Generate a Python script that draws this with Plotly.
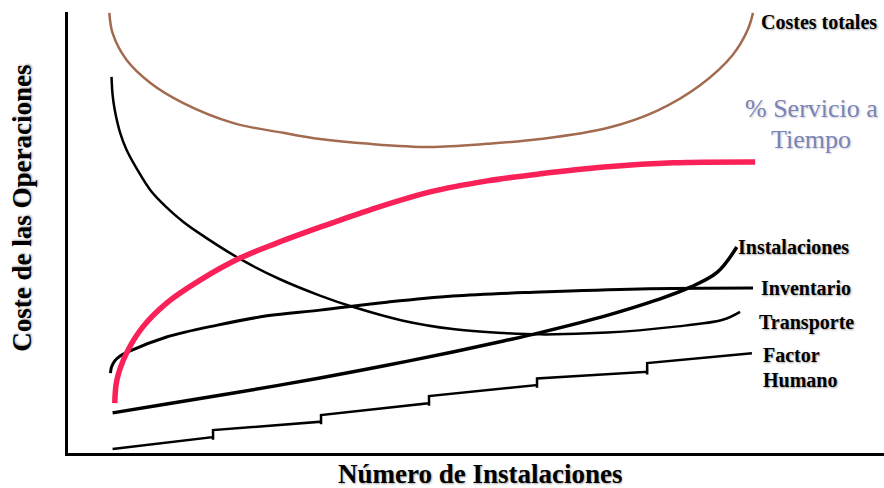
import plotly.graph_objects as go

# x: número de instalaciones, y: coste (0-100, unidades relativas)
costes_x = [1.04, 1.07, 1.20, 1.42, 1.72, 2.19, 2.65, 2.99, 3.45, 4.01, 4.54, 5.03, 5.65, 6.11, 6.51, 6.81, 6.95, 7.00]
costes_y = [99.8, 95.2, 89.1, 83.9, 79.4, 74.8, 72.6, 71.2, 70.1, 69.4, 70.1, 71.2, 73.7, 77.6, 83.4, 90.2, 95.9, 99.8]

servicio_x = [1.09, 1.11, 1.20, 1.35, 1.57, 1.88, 2.25, 2.59, 2.99, 3.45, 4.01, 4.54, 5.03, 5.65, 6.26, 7.02]
servicio_y = [11.3, 16.6, 22.7, 28.6, 34.0, 39.2, 44.2, 47.6, 51.2, 55.1, 59.2, 61.7, 63.3, 64.9, 65.8, 66.0]

transporte_x = [1.06, 1.07, 1.09, 1.14, 1.20, 1.30, 1.42, 1.57, 1.72, 1.85, 2.25, 2.62, 2.99, 3.30, 3.76, 4.22, 4.69, 5.03, 5.65, 6.26, 6.72, 6.88]
transporte_y = [85.3, 81.2, 77.8, 72.6, 68.7, 64.2, 59.6, 55.7, 52.5, 50.2, 44.0, 39.4, 35.7, 33.1, 30.0, 28.1, 27.2, 26.9, 27.3, 28.6, 30.2, 32.0]

inventario_x = [1.05, 1.06, 1.09, 1.14, 1.20, 1.57, 2.04, 2.50, 2.99, 3.61, 4.22, 5.03, 5.95, 7.00]
inventario_y = [18.1, 19.5, 20.9, 22.0, 22.8, 26.3, 29.0, 31.1, 32.4, 34.2, 35.6, 36.5, 37.2, 37.4]

instalaciones_x = [1.07, 1.57, 2.19, 2.99, 3.61, 4.22, 4.69, 5.03, 5.65, 6.11, 6.42, 6.67, 6.85]
instalaciones_y = [9.1, 11.1, 13.6, 17.0, 19.9, 22.9, 25.4, 27.3, 31.2, 34.7, 37.6, 41.0, 46.7]

humano_bounds = [1.07, 2.0, 3.0, 4.0, 5.0, 6.02, 6.99]
humano_start = [0.9, 5.2, 8.6, 12.9, 16.9, 20.4]
humano_end = [3.6, 7.1, 11.3, 15.4, 18.4, 22.6]

# build the step line for Factor Humano
hx, hy = [], []
for i in range(len(humano_start)):
    if i > 0:
        hx += [humano_bounds[i], humano_bounds[i]]
        hy += [humano_end[i - 1] - 0.6, humano_start[i]]
    hx += [humano_bounds[i], humano_bounds[i + 1]]
    hy += [humano_start[i], humano_end[i]]

fig = go.Figure()
fig.add_trace(go.Scatter(x=costes_x, y=costes_y, mode="lines", line=dict(color="#A26B4F", width=2.5, shape="spline", smoothing=1)))
fig.add_trace(go.Scatter(x=transporte_x, y=transporte_y, mode="lines", line=dict(color="black", width=2.5, shape="spline", smoothing=1)))
fig.add_trace(go.Scatter(x=inventario_x, y=inventario_y, mode="lines", line=dict(color="black", width=3, shape="spline", smoothing=1)))
fig.add_trace(go.Scatter(x=instalaciones_x, y=instalaciones_y, mode="lines", line=dict(color="black", width=3.5, shape="spline", smoothing=1)))
fig.add_trace(go.Scatter(x=hx, y=hy, mode="lines", line=dict(color="black", width=2.5)))
fig.add_trace(go.Scatter(x=servicio_x, y=servicio_y, mode="lines", line=dict(color="#F92158", width=5.5, shape="spline", smoothing=1)))

serif = "Liberation Serif"
shadow = "1px 1px 2px rgba(0,0,0,0.35)"
labels = [
    ("<b>Costes totales</b>", 7.06, 97.7),
    ("<b>Instalaciones</b>", 6.84, 46.7),
    ("<b>Inventario</b>", 7.06, 37.4),
    ("<b>Transporte</b>", 7.04, 29.5),
    ("<b>Factor</b>", 7.07, 22.2),
    ("<b>Humano</b>", 7.07, 16.6),
]
for text, x, y in labels:
    fig.add_annotation(x=x, y=y, xref="x", yref="y", text=text, showarrow=False,
                       xanchor="left", yanchor="middle",
                       font=dict(family=serif, size=20, color="black", shadow=shadow))

for text, y in [("% Servicio a", 78.2), ("Tiempo", 71.0)]:
    fig.add_annotation(x=7.54, y=y, xref="x", yref="y", text=text, showarrow=False,
                       xanchor="center", yanchor="middle",
                       font=dict(family=serif, size=26, color="#7A84B8", shadow="1px 1px 2px rgba(0,0,0,0.2)"))

fig.add_annotation(x=0.505, y=-0.0794, xref="paper", yref="paper", text="<b>Número de Instalaciones</b>",
                   showarrow=False, xanchor="center", yanchor="bottom", height=26, valign="middle",
                   borderpad=0,
                   font=dict(family=serif, size=27, color="black", shadow=shadow))
fig.add_annotation(x=-0.0564, y=0.556, xref="paper", yref="paper", text="<b>Coste de las Operaciones</b>",
                   showarrow=False, xanchor="center", yanchor="middle", textangle=-90,
                   font=dict(family=serif, size=27, color="black", shadow=shadow))

fig.update_layout(
    width=884, height=488,
    margin=dict(l=68, r=0, t=12, b=35),
    paper_bgcolor="white", plot_bgcolor="white",
    showlegend=False,
    xaxis=dict(range=[0.657, 8.213], showline=True, linecolor="black", linewidth=3,
               showgrid=False, zeroline=False, showticklabels=False, ticks=""),
    yaxis=dict(range=[0, 100], showline=True, linecolor="black", linewidth=3,
               showgrid=False, zeroline=False, showticklabels=False, ticks=""),
)
fig.write_html("out.html", config={"displayModeBar": False},
               post_script="document.body.style.margin='0';document.body.style.overflow='hidden';")
